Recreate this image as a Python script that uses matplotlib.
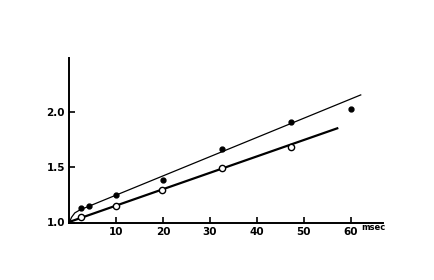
import matplotlib
matplotlib.use("Agg")
import matplotlib.pyplot as plt

# filled dots
t_filled = [2.5, 4.3, 10.0, 19.9, 32.6, 47.3, 60.1]
v_filled = [1.13, 1.156, 1.25, 1.39, 1.67, 1.907, 2.03]
# open circles
t_open = [2.55, 10.0, 19.7, 32.6, 47.3]
v_open = [1.05, 1.156, 1.30, 1.49, 1.68]

# fitted lines
t_fit_up = [0.0, 0.5, 1.2, 2.3, 62.1]
v_fit_up = [1.0, 1.05, 1.09, 1.117, 2.153]
t_fit_lo = [0.0, 57.1]
v_fit_lo = [1.008, 1.852]

xticks = [10, 20, 30, 40, 50, 60]
yticks = [1.0, 1.5, 2.0]

fig = plt.figure(figsize=(4.35, 2.8), dpi=100)
ax = fig.add_axes([0.159, 0.204, 0.721, 0.589])

ax.plot(t_fit_up, v_fit_up, color="black", lw=0.9)
ax.plot(t_fit_lo, v_fit_lo, color="black", lw=1.6)
ax.plot(t_filled, v_filled, "o", color="black", ms=3.5)
ax.plot(t_open, v_open, "o", mfc="white", mec="black", mew=1.0, ms=4.5)

ax.set_xlim(0, 66.8)
ax.set_ylim(1.0, 2.486)
ax.spines["top"].set_visible(False)
ax.spines["right"].set_visible(False)
ax.spines["left"].set_linewidth(1.4)
ax.spines["bottom"].set_linewidth(1.4)
ax.set_xticks(xticks)
ax.set_xticklabels([str(x) for x in xticks], fontsize=7.5, fontweight="bold")
ax.set_yticks(yticks)
ax.set_yticklabels(["1.0", "1.5", "2.0"], fontsize=7.5, fontweight="bold")
ax.tick_params(direction="in", length=4, width=1.2, pad=3)
ax.text(62.3, 1.0, "msec", fontsize=6, fontweight="bold", va="top",
        transform=ax.transData, ha="left")
ax.yaxis.get_major_ticks()[0].label1.set_verticalalignment("center")

fig.savefig("out.png", dpi=100)
